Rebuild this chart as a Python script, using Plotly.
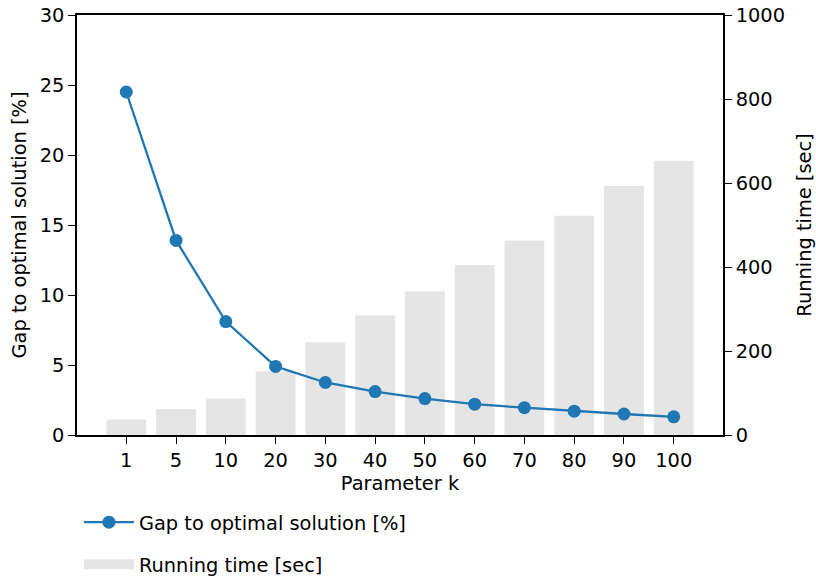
import plotly.graph_objects as go

k_labels = ["1", "5", "10", "20", "30", "40", "50", "60", "70", "80", "90", "100"]
gap_pct = [24.5, 13.9, 8.1, 4.9, 3.75, 3.1, 2.6, 2.2, 1.95, 1.7, 1.5, 1.3]
run_time = [37, 62, 87, 152, 221, 285, 342, 405, 463, 522, 593, 653]

FONT = "DejaVu Sans"
FS = 19.4
fig = go.Figure()

fig.add_trace(go.Bar(
    x=k_labels, y=run_time, yaxis="y", width=0.8,
    marker=dict(color="#e5e5e5", line=dict(width=0)),
    showlegend=False, name="Running time [sec]"))

fig.add_trace(go.Scatter(
    x=k_labels, y=gap_pct, yaxis="y2", mode="lines+markers",
    line=dict(color="#1f77b4", width=2.3),
    marker=dict(color="#1f77b4", size=13),
    name="Gap to optimal solution [%]", legend="legend"))

fig.add_trace(go.Scatter(
    x=[None], y=[None], yaxis="y", mode="lines",
    line=dict(color="#e5e5e5", width=12),
    name="Running time [sec]", legend="legend2"))

axis_common = dict(showline=True, linecolor="black", linewidth=1.5,
                   ticks="outside", ticklen=7, tickwidth=1.3, tickcolor="black",
                   showgrid=False, zeroline=False, automargin=False,
                   tickfont=dict(family=FONT, size=FS, color="black"))

fig.update_layout(
    width=816, height=581,
    margin=dict(l=77, r=93, t=15, b=146, autoexpand=False),
    plot_bgcolor="white", paper_bgcolor="white",
    font=dict(family=FONT, size=FS, color="black"),
    bargap=0.2,
    xaxis=dict(**axis_common, mirror=True, type="category", range=[-0.99, 11.99],
               title=dict(text="Parameter k", font=dict(family=FONT, size=FS), standoff=4)),
    yaxis=dict(**axis_common, side="right", range=[0, 1000], dtick=200,
               title=dict(text="Running time [sec]", font=dict(family=FONT, size=FS), standoff=14)),
    yaxis2=dict(**axis_common, side="left", overlaying="y", range=[0, 30], dtick=5,
                title=dict(text="Gap to optimal solution [%]", font=dict(family=FONT, size=FS), standoff=8)),
    legend=dict(x=0.003, y=-0.162, xanchor="left", yanchor="top", itemwidth=50,
                bgcolor="rgba(0,0,0,0)", font=dict(family=FONT, size=FS)),
    legend2=dict(x=0.003, y=-0.262, xanchor="left", yanchor="top", itemwidth=50,
                 bgcolor="rgba(0,0,0,0)", font=dict(family=FONT, size=FS)),
)

fig.write_html("out.html", config={"displayModeBar": False},
               post_script="document.body.style.margin='0px';")
